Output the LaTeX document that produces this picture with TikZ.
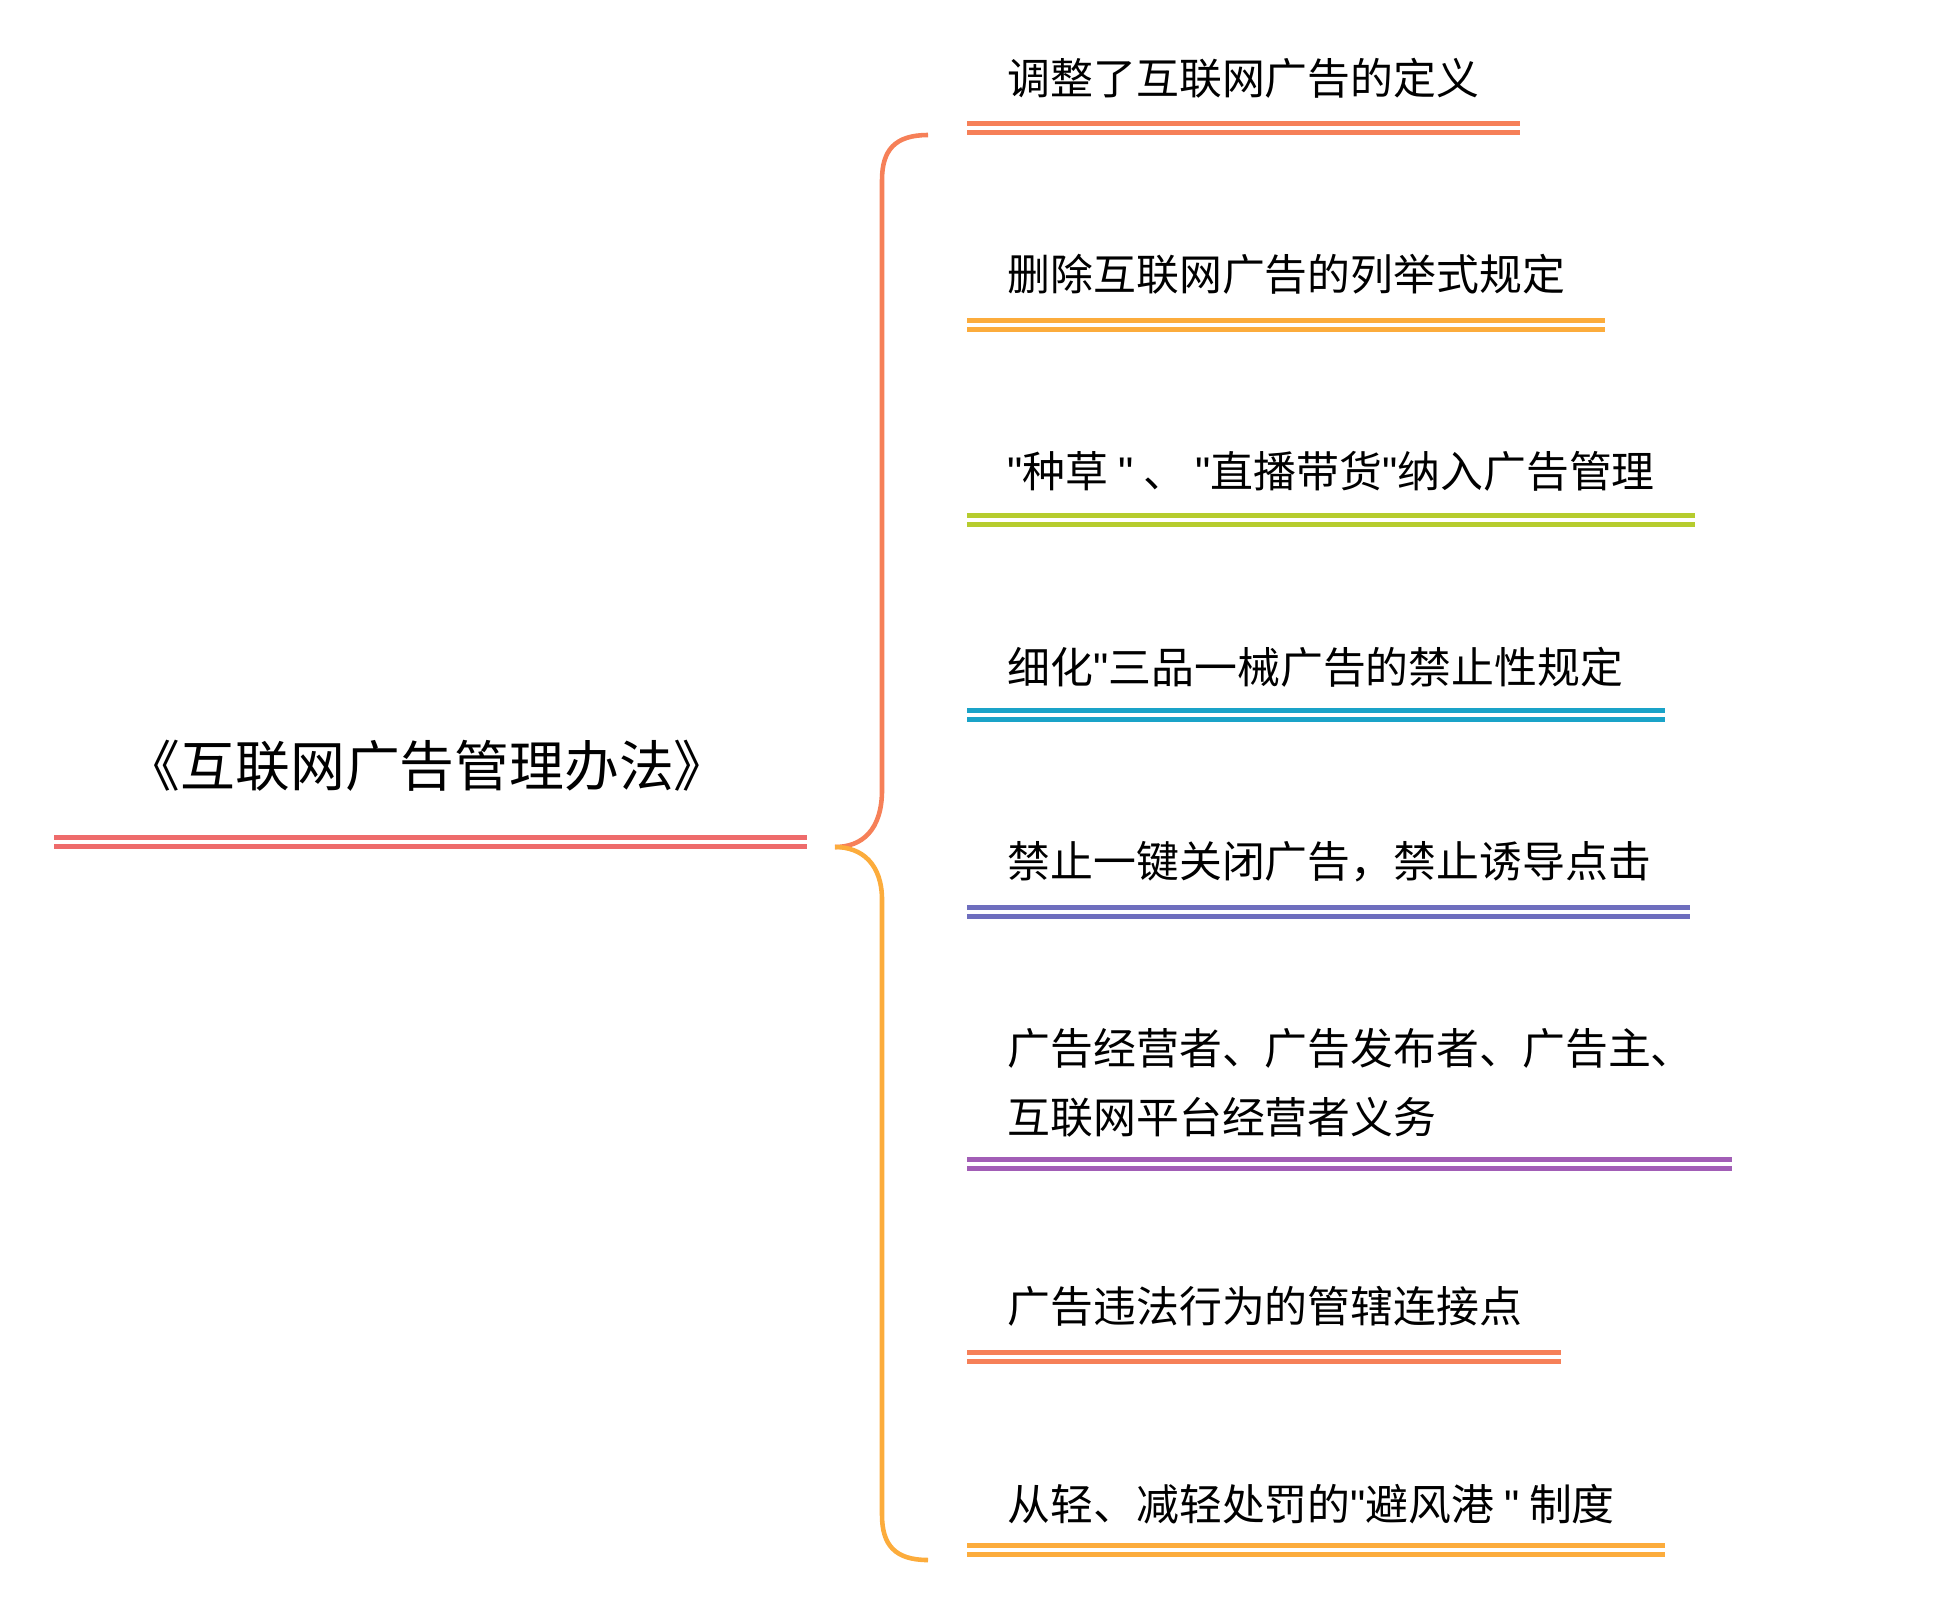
\documentclass[tikz,border=0pt]{standalone}
\usepackage{fontspec}
\setmainfont{Noto Sans CJK SC}
\newfontfamily\quotefont{Liberation Sans}
\newcommand{\qq}{{\quotefont"}}
\usetikzlibrary{positioning}
\definecolor{rootcolor}{RGB}{238, 107, 107}
\definecolor{coralcolor}{RGB}{246, 128, 88}
\definecolor{orangecolor}{RGB}{252, 172, 60}
\definecolor{limecolor}{RGB}{182, 204, 46}
\definecolor{cyancolor}{RGB}{26, 163, 200}
\definecolor{bluecolor}{RGB}{110, 110, 190}
\definecolor{purplecolor}{RGB}{162, 94, 182}

\begin{document}
\begin{tikzpicture}[
    item/.style={anchor=west, inner sep=0pt, font=\fontsize{12.2pt}{19.5pt}\selectfont, align=left},
    dline/.style={line width=1.3pt, double distance=1.3pt, double=white}
]
\useasboundingbox (0,0) rectangle (19.44,-16.13);

% root
\node[item, font=\fontsize{15.6pt}{20pt}\selectfont] (root) at (1.25,-7.66) {《互联网广告管理办法》};
\coordinate (rootl) at (0.54,-8.42);
\coordinate (rootr) at (8.07,-8.42);
\draw[dline, draw=rootcolor] (rootl) -- (rootr);

% brace
\coordinate (tip) at (8.35,-8.47);
\coordinate (top) at (9.28,-1.35);
\coordinate (bot) at (9.28,-15.6);
\draw[coralcolor, line width=1.3pt] (tip) .. controls (8.62,-8.47) and (8.82,-8.3) .. (8.82,-7.9)
    -- (8.82,-1.8) .. controls (8.82,-1.5) and (8.95,-1.35) .. (top);
\draw[orangecolor, line width=1.3pt] (tip) .. controls (8.62,-8.47) and (8.82,-8.64) .. (8.82,-9.0)
    -- (8.82,-15.15) .. controls (8.82,-15.45) and (8.95,-15.6) .. (bot);

% items
\node[item] (a) at (10.07,-0.78) {调整了互联网广告的定义};
\node[item] (b) at (10.07,-2.74) {删除互联网广告的列举式规定};
\node[item] (c) at (10.07,-4.71) {\qq 种草 \qq{} 、 \qq 直播带货\qq 纳入广告管理};
\node[item] (d) at (10.07,-6.67) {细化\qq 三品一械广告的禁止性规定};
\node[item] (e) at (10.07,-8.62) {禁止一键关闭广告，禁止诱导点击};
\node[item] (f) at (10.07,-10.83) {广告经营者、广告发布者、广告主、\\互联网平台经营者义务};
\node[item] (g) at (10.07,-13.06) {广告违法行为的管辖连接点};
\node[item] (h) at (10.07,-15.04) {从轻、减轻处罚的\qq 避风港 \qq{} 制度};

\draw[dline, draw=coralcolor] (9.67,-1.28) coordinate (a1) -- (15.20,-1.28) coordinate (a2);
\draw[dline, draw=orangecolor] (9.67,-3.25) coordinate (b1) -- (16.05,-3.25) coordinate (b2);
\draw[dline, draw=limecolor] (9.67,-5.20) coordinate (c1) -- (16.95,-5.20) coordinate (c2);
\draw[dline, draw=cyancolor] (9.67,-7.15) coordinate (d1) -- (16.65,-7.15) coordinate (d2);
\draw[dline, draw=bluecolor] (9.67,-9.12) coordinate (e1) -- (16.90,-9.12) coordinate (e2);
\draw[dline, draw=purplecolor] (9.67,-11.64) coordinate (f1) -- (17.32,-11.64) coordinate (f2);
\draw[dline, draw=coralcolor] (9.67,-13.57) coordinate (g1) -- (15.61,-13.57) coordinate (g2);
\draw[dline, draw=orangecolor] (9.67,-15.50) coordinate (h1) -- (16.65,-15.50) coordinate (h2);
\end{tikzpicture}
\end{document}
